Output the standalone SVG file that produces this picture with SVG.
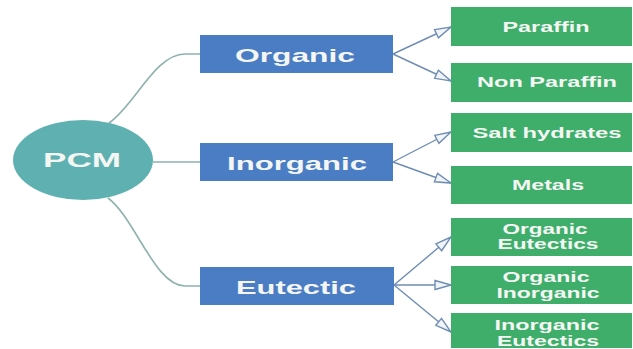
<svg xmlns="http://www.w3.org/2000/svg" width="633" height="349" viewBox="0 0 633 349">
<defs>
<style>
.blue{fill:#4a7dc3;}
.green{fill:#3fae6b;}
.t{font-family:"Liberation Sans",Arial,sans-serif;font-weight:bold;fill:#f4f6f4;text-anchor:middle;}
.tb{font-size:19px;}
.tg{font-size:14px;}
.curve{fill:none;stroke:#8db2ae;stroke-width:1.6;}
.arr{fill:none;stroke:#6f8db3;stroke-width:1.4;marker-end:url(#ah);}
</style>
<marker id="ah" markerUnits="userSpaceOnUse" viewBox="0 0 18 12" refX="17" refY="6" markerWidth="18" markerHeight="12" orient="auto">
<path d="M1,1.5 L17,6 L1,10.5 Z" fill="#f2f5f8" stroke="#6f8db3" stroke-width="1.4"/>
</marker>
</defs>
<rect width="633" height="349" fill="#ffffff"/>
<g id="connectors">
<path class="curve" d="M109,123 C135,105 155,54 185,54 H200"/>
<path class="curve" d="M153,162 H200"/>
<path class="curve" d="M108,198 C135,218 155,286 185,286 H200"/>
<path class="arr" d="M393,54 L451,27"/>
<path class="arr" d="M393,54 L451,81"/>
<path class="arr" d="M393,162 L451,132"/>
<path class="arr" d="M393,162 L451,183"/>
<path class="arr" d="M394,285 L451,237"/>
<path class="arr" d="M394,285 L451,285"/>
<path class="arr" d="M394,285 L451,332"/>
</g>
<g id="pcm">
<ellipse cx="83" cy="160" rx="70" ry="40" fill="#5fb1b1"/>
<text class="t" x="82" y="167" font-size="21" textLength="78" lengthAdjust="spacingAndGlyphs">PCM</text>
</g>
<g id="organic">
<rect class="blue" x="200" y="35" width="193" height="38"/>
<text class="t tb" x="295" y="61.5" textLength="120" lengthAdjust="spacingAndGlyphs">Organic</text>
</g>
<g id="inorganic">
<rect class="blue" x="200" y="143" width="193" height="38"/>
<text class="t tb" x="297" y="169.5" textLength="140" lengthAdjust="spacingAndGlyphs">Inorganic</text>
</g>
<g id="eutectic">
<rect class="blue" x="200" y="267" width="194" height="38"/>
<text class="t tb" x="296" y="293.5" textLength="120" lengthAdjust="spacingAndGlyphs">Eutectic</text>
</g>
<g id="paraffin">
<rect class="green" x="451" y="7" width="181" height="39"/>
<text class="t tg" x="546" y="32" textLength="87" lengthAdjust="spacingAndGlyphs">Paraffin</text>
</g>
<g id="non-paraffin">
<rect class="green" x="451" y="63" width="181" height="39"/>
<text class="t tg" x="547" y="87" textLength="140" lengthAdjust="spacingAndGlyphs">Non Paraffin</text>
</g>
<g id="salt-hydrates">
<rect class="green" x="451" y="113" width="181" height="39"/>
<text class="t tg" x="547" y="138" textLength="149" lengthAdjust="spacingAndGlyphs">Salt hydrates</text>
</g>
<g id="metals">
<rect class="green" x="451" y="166" width="181" height="38"/>
<text class="t tg" x="548" y="190" textLength="72" lengthAdjust="spacingAndGlyphs">Metals</text>
</g>
<g id="organic-eutectics">
<rect class="green" x="451" y="218" width="181" height="38"/>
<text class="t tg" x="545" y="234" textLength="85" lengthAdjust="spacingAndGlyphs">Organic</text>
<text class="t tg" x="548" y="249" textLength="101" lengthAdjust="spacingAndGlyphs">Eutectics</text>
</g>
<g id="organic-inorganic">
<rect class="green" x="451" y="266" width="181" height="38"/>
<text class="t tg" x="546" y="282" textLength="87" lengthAdjust="spacingAndGlyphs">Organic</text>
<text class="t tg" x="548" y="298" textLength="103" lengthAdjust="spacingAndGlyphs">Inorganic</text>
</g>
<g id="inorganic-eutectics">
<rect class="green" x="451" y="313" width="181" height="35"/>
<text class="t tg" x="547" y="330" textLength="105" lengthAdjust="spacingAndGlyphs">Inorganic</text>
<text class="t tg" x="548" y="346" textLength="102" lengthAdjust="spacingAndGlyphs">Eutectics</text>
</g>
</svg>
